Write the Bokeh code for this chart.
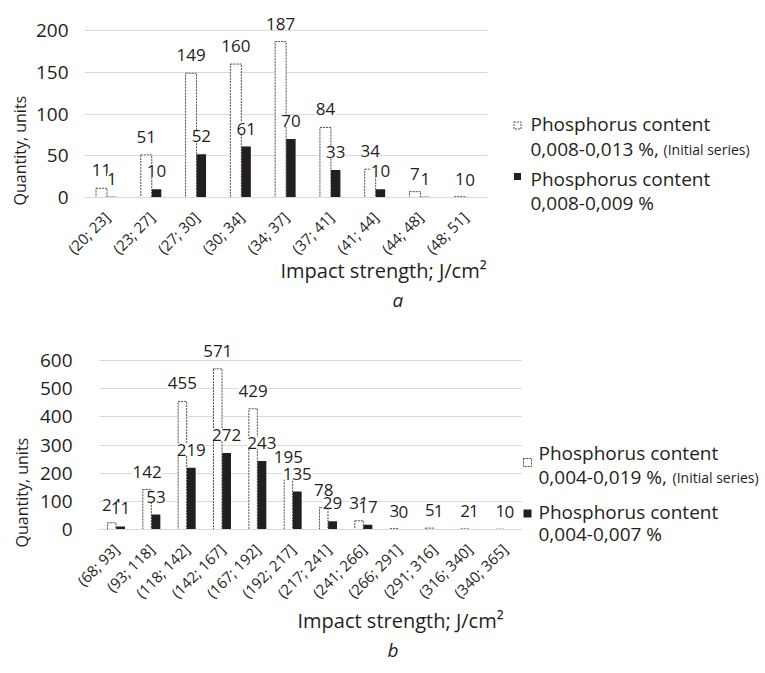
import math
from bokeh.plotting import figure
from bokeh.models import ColumnDataSource, FactorRange, FixedTicker, LabelSet, Range1d, Title
from bokeh.transform import dodge
from bokeh.layouts import column, row
from bokeh.core.properties import value
from bokeh.embed import file_html
from bokeh.resources import INLINE

# ---------------- data ----------------
cats_a = ["(20; 23]", "(23; 27]", "(27; 30]", "(30; 34]", "(34; 37]",
          "(37; 41]", "(41; 44]", "(44; 48]", "(48; 51]"]
initial_a = [11, 51, 149, 160, 187, 84, 34, 7, 1]
new_a = [1, 10, 52, 61, 70, 33, 10, 1, 0]
yticks_a = [0, 50, 100, 150, 200]

cats_b = ["(68; 93]", "(93; 118]", "(118; 142]", "(142; 167]", "(167; 192]",
          "(192; 217]", "(217; 241]", "(241; 266]", "(266; 291]", "(291; 316]",
          "(316; 340]", "(340; 365]"]
initial_b = [24, 142, 455, 571, 429, 195, 78, 31, 3, 5, 2, 1]
new_b = [11, 53, 219, 272, 243, 135, 29, 17, 0, 1, 1, 0]
yticks_b = [0, 100, 200, 300, 400, 500, 600]

y_title = "Quantity, units"
x_title = "Impact strength; J/cm\u00b2"
legend_a_main = ["Phosphorus content", "0,008-0,013 %,", "Phosphorus content", "0,008-0,009 %"]
legend_b_main = ["Phosphorus content", "0,004-0,019 %,", "Phosphorus content", "0,004-0,007 %"]
legend_note = "(Initial series)"
panel_a = "a"
panel_b = "b"

# ---------------- style ----------------
FONT = "Open Sans"
TXT = "#231f20"
GRID = "#d9d9d9"
BLACK = "#231f20"
OUTLINE = "#4d4d4d"


def make_panel(cats, init, new, yticks, ymax, fw, fh, mb_left, mb_right,
               mb_top, mb_bottom, w_off, w_w, b_off, b_w, tick_standoff,
               ytitle_off, ytitle_standoff, title_off, letter, letter_off,
               title_standoff, letter_standoff):
    src = ColumnDataSource(dict(
        cat=cats, init=init, new=new,
        init_t=[str(v) for v in init], new_t=[str(v) for v in new]))
    p = figure(x_range=FactorRange(*cats), y_range=Range1d(0, ymax),
               width=mb_left + fw + mb_right, height=mb_top + fh + mb_bottom,
               toolbar_location=None, output_backend="svg",
               min_border_left=mb_left, min_border_right=mb_right,
               min_border_top=mb_top, min_border_bottom=mb_bottom)
    p.frame_width = fw
    p.frame_height = fh
    p.frame_align = False
    p.outline_line_color = None

    p.vbar(x=dodge("cat", w_off, range=p.x_range), top="init", width=w_w, source=src,
           fill_color="white", line_color=OUTLINE, line_width=1, line_dash="2 1")
    p.vbar(x=dodge("cat", b_off, range=p.x_range), top="new", width=b_w, source=src,
           fill_color=BLACK, line_color=None)

    for off, ycol, field in ((w_off, "init", "init_t"), (b_off, "new", "new_t")):
        ls = LabelSet(x=dodge("cat", off, range=p.x_range), y=ycol, text=field,
                      source=src, text_align="center", text_baseline="middle",
                      y_offset=18, text_font=value(FONT), text_font_size="17px",
                      text_color=TXT, background_fill_color="white")
        p.add_layout(ls)

    p.xgrid.grid_line_color = None
    p.ygrid.grid_line_color = GRID
    p.ygrid.grid_line_width = 1
    p.yaxis.ticker = FixedTicker(ticks=yticks)
    p.yaxis.axis_line_color = None
    p.yaxis.major_tick_line_color = None
    p.yaxis.minor_tick_line_color = None
    p.yaxis.major_label_text_font = FONT
    p.yaxis.major_label_text_font_size = "19px"
    p.yaxis.major_label_text_color = TXT
    p.yaxis.major_label_standoff = tick_standoff

    p.xaxis.axis_line_color = GRID
    p.xaxis.major_tick_line_color = None
    p.xaxis.minor_tick_line_color = None
    p.xaxis.major_label_orientation = math.pi / 4
    p.xaxis.major_label_text_font = FONT
    p.xaxis.major_label_text_font_size = "15px"
    p.xaxis.major_label_text_color = TXT
    p.xaxis.major_label_standoff = 11

    p.add_layout(Title(text=y_title, align="left", offset=ytitle_off,
                       text_font=FONT, text_font_size="16px", text_font_style="normal",
                       text_color=TXT, standoff=ytitle_standoff), "left")
    p.add_layout(Title(text=x_title, align="left", offset=title_off,
                       text_font=FONT, text_font_size="20px", text_font_style="normal",
                       text_color=TXT, standoff=title_standoff), "below")
    p.add_layout(Title(text=letter, align="left", offset=letter_off,
                       text_font=FONT, text_font_size="19px", text_font_style="italic",
                       text_color=TXT, standoff=letter_standoff), "below")
    return p


def make_legend(width, height, lines, text_x, line_y, note_x, marker_x, marker_y, msize):
    p = figure(width=width, height=height, x_range=Range1d(0, width),
               y_range=Range1d(height, 0), toolbar_location=None, output_backend="svg",
               x_axis_location=None, y_axis_location=None, min_border=0)
    p.frame_align = False
    p.grid.visible = False
    p.outline_line_color = None
    p.rect(x=[marker_x], y=[marker_y[0]], width=msize, height=msize, fill_color="white",
           line_color=OUTLINE, line_width=1, line_dash="2 1")
    p.rect(x=[marker_x], y=[marker_y[1]], width=msize, height=msize, fill_color=BLACK,
           line_color=None)
    p.text(x=[text_x] * 4, y=line_y, text=lines, text_font=value(FONT),
           text_font_size="19px", text_color=TXT, text_baseline="middle")
    p.text(x=[note_x], y=[line_y[1] + 1], text=[legend_note], text_font=value(FONT),
           text_font_size="14px", text_color=TXT, text_baseline="middle")
    return p


# panel a: frame x 84..487, y 1..197 (0 at 197, 200 at 30); total height 328
pa = make_panel(cats_a, initial_a, new_a, yticks_a, 235, 403, 196, 84, 13, 1, 131,
                -0.12, 0.245, 0.11, 0.21, 10,
                -8, 3, 196, panel_a, 308, -28, 30)
la = make_legend(265, 328, legend_a_main, 30, [123, 148, 178, 202], 163, 17,
                 [125, 176], 7)

# panel b: starts at y 328; frame x 98..522, y 332..529 (0 at 529, 600 at 360)
pb = make_panel(cats_b, initial_b, new_b, yticks_b, 700, 424, 197, 98, 0, 4, 144,
                -0.125, 0.24, 0.125, 0.25, 20,
                -18, 7, 199, panel_b, 289, -16, 18)
lb = make_legend(243, 345, legend_b_main, 16, [124, 148, 183, 205], 150, 5,
                 [134, 185], 8)

layout = column(row(pa, la), row(pb, lb))

open("out.html", "w").write(file_html(layout, INLINE))
